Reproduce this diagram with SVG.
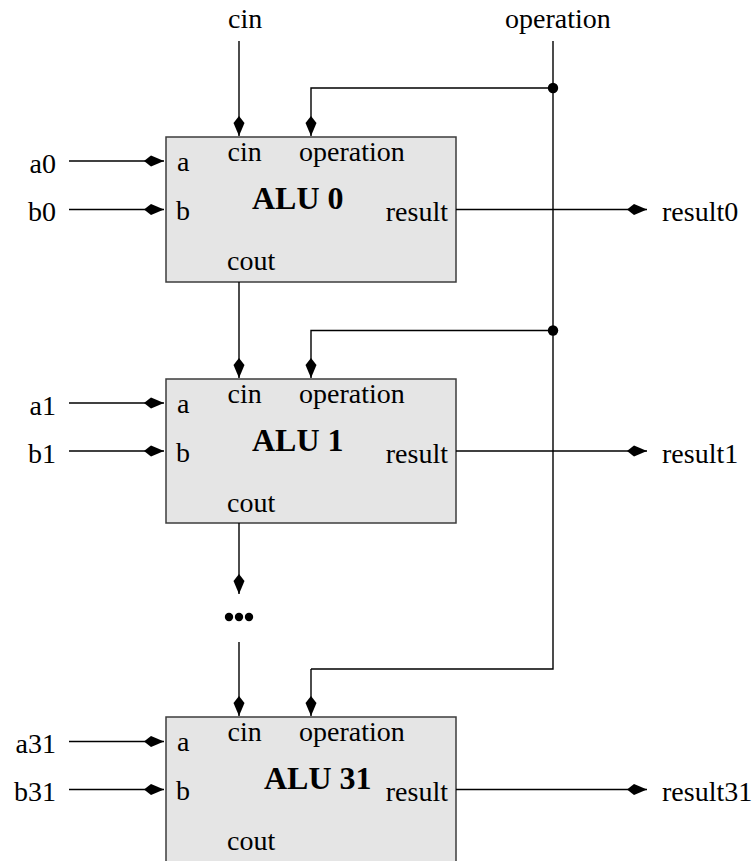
<svg xmlns="http://www.w3.org/2000/svg" width="755" height="861" viewBox="0 0 755 861">
  <style>
    text { font-family: "Liberation Serif", "Times New Roman", serif; font-size: 28px; fill: #000; }
    .title { font-weight: bold; font-size: 32px; }
    .end { text-anchor: end; }
    .box { fill: #e5e5e5; stroke: #3c3c3c; stroke-width: 1.5; }
    .wire { fill: none; stroke: #000; stroke-width: 1.4; }
    .arrow { marker-end: url(#head); }
  </style>
  <defs>
    <marker id="head" markerUnits="userSpaceOnUse" viewBox="-22 -7 23 14" refX="0" refY="0" markerWidth="23" markerHeight="14" orient="auto">
      <path d="M0,0 L-13,-5.5 L-20,0 L-13,5.5 Z" fill="#000"/>
    </marker>
  </defs>

  <!-- global inputs -->
  <text x="228" y="28">cin</text>
  <text x="505" y="28">operation</text>

  <!-- ALU 0 -->
  <g id="alu0">
    <rect class="box" x="166" y="137" width="290" height="145"/>
    <text x="177" y="171">a</text>
    <text x="176" y="220">b</text>
    <text x="227.5" y="160.5">cin</text>
    <text x="299" y="160.5">operation</text>
    <text class="title" x="252" y="209">ALU 0</text>
    <text class="end" x="448" y="221">result</text>
    <text x="227" y="270">cout</text>
    <text class="end" x="56" y="173">a0</text>
    <text class="end" x="56" y="221">b0</text>
    <text x="662" y="221">result0</text>
  </g>

  <!-- ALU 1 -->
  <g id="alu1">
    <rect class="box" x="166" y="379" width="290" height="144"/>
    <text x="177" y="413">a</text>
    <text x="176" y="462">b</text>
    <text x="227.5" y="402.5">cin</text>
    <text x="299" y="402.5">operation</text>
    <text class="title" x="252" y="451">ALU 1</text>
    <text class="end" x="448" y="463">result</text>
    <text x="227" y="512">cout</text>
    <text class="end" x="56" y="415">a1</text>
    <text class="end" x="56" y="463">b1</text>
    <text x="662" y="463">result1</text>
  </g>

  <!-- ALU 31 -->
  <g id="alu31">
    <rect class="box" x="166" y="717" width="290" height="160"/>
    <text x="177" y="751">a</text>
    <text x="176" y="800">b</text>
    <text x="227.5" y="740.5">cin</text>
    <text x="299" y="740.5">operation</text>
    <text class="title" x="264" y="789">ALU 31</text>
    <text class="end" x="448" y="801">result</text>
    <text x="227" y="850">cout</text>
    <text class="end" x="56" y="753">a31</text>
    <text class="end" x="56" y="801">b31</text>
    <text x="662" y="801">result31</text>
  </g>

  <!-- ripple gap between ALU 1 and ALU 31 -->
  <g id="gap">
    <circle cx="229" cy="617" r="4.2"/>
    <circle cx="239" cy="617" r="4.2"/>
    <circle cx="249" cy="617" r="4.2"/>
  </g>

  <g id="connectors">
    <!-- carry chain -->
    <path class="wire arrow" d="M239,41 V136"/>
    <path class="wire arrow" d="M239,282 V378"/>
    <path class="wire arrow" d="M239,523 V594"/>
    <path class="wire arrow" d="M239,642 V716"/>

    <!-- operation bus and taps -->
    <path class="wire" d="M553,41 V669 H311"/>
    <path class="wire arrow" d="M553,88 H311 V136"/>
    <path class="wire arrow" d="M553,330.5 H311 V378"/>
    <path class="wire arrow" d="M311,669 V716"/>
    <circle cx="553" cy="88" r="5.2"/>
    <circle cx="553" cy="330.5" r="5.2"/>

    <!-- operand inputs -->
    <path class="wire arrow" d="M69,161 H164"/>
    <path class="wire arrow" d="M69,209.5 H164"/>
    <path class="wire arrow" d="M69,403 H164"/>
    <path class="wire arrow" d="M69,451 H164"/>
    <path class="wire arrow" d="M69,741.5 H164"/>
    <path class="wire arrow" d="M69,789.5 H164"/>

    <!-- results -->
    <path class="wire arrow" d="M456,209.5 H647"/>
    <path class="wire arrow" d="M456,451 H647"/>
    <path class="wire arrow" d="M456,789.5 H647"/>
  </g>
</svg>
